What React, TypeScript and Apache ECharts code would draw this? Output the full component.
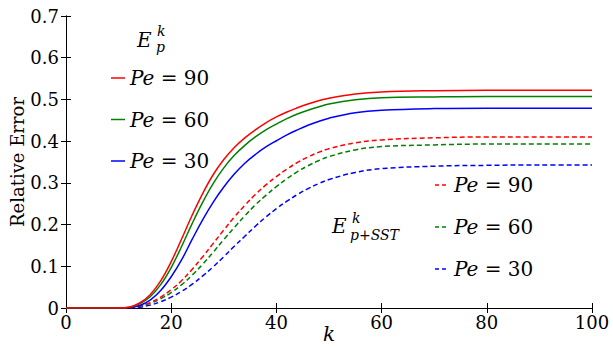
import React, { useEffect, useRef } from "react";
import * as echarts from "echarts";

const kValues = [0, 5, 10, 12, 14, 16, 18, 20, 22, 24, 26, 28, 30, 32, 34, 36, 38, 40, 42, 44, 46, 48, 50, 55, 60, 70, 80, 90, 100];

const epPe90 = [0, 0, 0, 0.002, 0.012, 0.032, 0.065, 0.111, 0.166, 0.223, 0.275, 0.32, 0.356, 0.385, 0.408, 0.427, 0.444, 0.458, 0.47, 0.48, 0.489, 0.497, 0.503, 0.513, 0.518, 0.521, 0.522, 0.522, 0.522];
const epPe60 = [0, 0, 0, 0.0015, 0.01, 0.027, 0.056, 0.097, 0.148, 0.203, 0.254, 0.299, 0.336, 0.366, 0.39, 0.41, 0.427, 0.441, 0.454, 0.465, 0.474, 0.482, 0.489, 0.499, 0.504, 0.506, 0.507, 0.507, 0.507];
const epPe30 = [0, 0, 0, 0.001, 0.006, 0.019, 0.042, 0.075, 0.116, 0.165, 0.212, 0.254, 0.29, 0.321, 0.347, 0.368, 0.386, 0.401, 0.415, 0.427, 0.438, 0.447, 0.455, 0.468, 0.474, 0.478, 0.479, 0.479, 0.479];

const esPe90 = [0, 0, 0, 0.001, 0.005, 0.013, 0.026, 0.044, 0.066, 0.093, 0.123, 0.155, 0.187, 0.218, 0.246, 0.272, 0.295, 0.315, 0.333, 0.349, 0.362, 0.373, 0.382, 0.396, 0.403, 0.408, 0.41, 0.41, 0.41];
const esPe60 = [0, 0, 0, 0.001, 0.004, 0.011, 0.022, 0.037, 0.056, 0.079, 0.105, 0.134, 0.164, 0.193, 0.221, 0.247, 0.27, 0.291, 0.31, 0.327, 0.341, 0.353, 0.363, 0.379, 0.387, 0.391, 0.393, 0.393, 0.393];
const esPe30 = [0, 0, 0, 0, 0.002, 0.007, 0.015, 0.026, 0.04, 0.057, 0.077, 0.099, 0.123, 0.148, 0.172, 0.196, 0.218, 0.238, 0.256, 0.272, 0.286, 0.298, 0.308, 0.325, 0.334, 0.34, 0.342, 0.343, 0.343];

const xTickLabels = ["0", "20", "40", "60", "80", "100"];
const yTickLabels = ["0", "0.1", "0.2", "0.3", "0.4", "0.5", "0.6", "0.7"];
const legendLabels = ["90", "60", "30"];
const colors = ["#ff0000", "#008000", "#0000ff"];

const SERIF = "DejaVu Serif";

export default function App() {
  const ref = useRef<HTMLDivElement>(null);
  useEffect(() => {
    if (!ref.current) return;
    const chart = echarts.init(ref.current, null, { renderer: "svg" });
    const toData = (arr: number[]) => kValues.map((k, i) => [k, arr[i]]);
    const mkSeries = (name: string, arr: number[], color: string, dashed: boolean) => ({
      name,
      type: "line",
      data: toData(arr),
      showSymbol: false,
      smooth: 0.4,
      lineStyle: { color, width: 1.5, type: dashed ? [5, 3] : "solid" },
      xAxisIndex: 0,
      yAxisIndex: 0,
      z: dashed ? 2 : 3,
    });

    const pe = (label: string) => ({
      text: `{i|Pe}{e| = }{n|${label}}`,
      rich: {
        i: { fontFamily: SERIF, fontStyle: "italic", fontSize: 20, color: "#000" },
        e: { fontFamily: SERIF, fontSize: 20, color: "#000" },
        n: { fontFamily: SERIF, fontSize: 20, color: "#000" },
      },
    });

    const legendYsSolid = [78, 119.5, 161];
    const legendYsDashed = [185, 227, 269];
    const graphics: any[] = [];
    legendLabels.forEach((lab, i) => {
      graphics.push({
        type: "line",
        shape: { x1: 111, y1: legendYsSolid[i], x2: 125, y2: legendYsSolid[i] },
        style: { stroke: colors[i], lineWidth: 1.5 },
      });
      graphics.push({
        type: "text",
        x: 130,
        y: legendYsSolid[i],
        style: { ...pe(lab), verticalAlign: "middle", align: "left" },
      });
      graphics.push({
        type: "line",
        shape: { x1: 435, y1: legendYsDashed[i], x2: 447, y2: legendYsDashed[i] },
        style: { stroke: colors[i], lineWidth: 1.5, lineDash: [4, 3] },
      });
      graphics.push({
        type: "text",
        x: 454,
        y: legendYsDashed[i],
        style: { ...pe(lab), verticalAlign: "middle", align: "left" },
      });
    });
    const t = (x: number, y: number, text: string, size: number) => ({
      type: "text",
      x,
      y,
      style: { text, fontFamily: SERIF, fontStyle: "italic", fontSize: size, fill: "#000", verticalAlign: "middle" },
    });
    // E_p^k
    graphics.push(t(137, 40, "E", 20));
    graphics.push(t(157, 31, "k", 14));
    graphics.push(t(156, 47, "p", 14));
    // E_{p+SST}^k
    graphics.push(t(332, 226, "E", 20));
    graphics.push(t(352, 218, "k", 14));
    graphics.push({
      type: "text",
      x: 350,
      y: 235,
      style: {
        text: "{i|p}{r|+}{i|SST}",
        rich: {
          i: { fontFamily: SERIF, fontStyle: "italic", fontSize: 14, color: "#000" },
          r: { fontFamily: SERIF, fontSize: 14, color: "#000" },
        },
        verticalAlign: "middle",
      },
    });

    const axisCommon = {
      axisLine: { show: true, lineStyle: { color: "#000", width: 1 } },
      axisTick: { show: true, inside: true, length: 5, lineStyle: { color: "#000", width: 1 } },
      splitLine: { show: false },
    };

    chart.setOption({
      animation: false,
      backgroundColor: "#fff",
      textStyle: { fontFamily: SERIF },
      grid: { left: 66, right: 21, top: 16, bottom: 39, containLabel: false, outerBoundsMode: "none" },
      xAxis: [
        {
          type: "value",
          min: 0,
          max: 100,
          interval: 20,
          position: "bottom",
          ...axisCommon,
          axisLabel: {
            margin: 5,
            fontFamily: SERIF,
            fontSize: 18,
            color: "#000",
            formatter: (v: number) => xTickLabels[Math.round(v / 20)] ?? "",
          },
          name: "k",
          nameLocation: "middle",
          nameGap: 16,
          nameMoveOverlap: false,
          nameTextStyle: { fontFamily: SERIF, fontStyle: "italic", fontSize: 20, color: "#000" },
        },
        {
          type: "value",
          min: 0,
          max: 100,
          interval: 20,
          position: "top",
          ...axisCommon,
          axisLabel: { show: false },
        },
      ],
      yAxis: [
        {
          type: "value",
          min: 0,
          max: 0.7,
          interval: 0.1,
          position: "left",
          ...axisCommon,
          axisLabel: {
            margin: 7,
            fontFamily: SERIF,
            fontSize: 18,
            color: "#000",
            formatter: (v: number) => yTickLabels[Math.round(v * 10)] ?? "",
          },
          name: "Relative Error",
          nameLocation: "middle",
          nameRotate: 90,
          nameGap: 40,
          nameMoveOverlap: false,
          nameTextStyle: { fontFamily: SERIF, fontSize: 18, color: "#000" },
        },
        {
          type: "value",
          min: 0,
          max: 0.7,
          interval: 0.1,
          position: "right",
          ...axisCommon,
          axisLabel: { show: false },
        },
      ],
      series: [
        mkSeries("SST Pe=30", esPe30, colors[2], true),
        mkSeries("SST Pe=60", esPe60, colors[1], true),
        mkSeries("SST Pe=90", esPe90, colors[0], true),
        mkSeries("Pe=30", epPe30, colors[2], false),
        mkSeries("Pe=60", epPe60, colors[1], false),
        mkSeries("Pe=90", epPe90, colors[0], false),
      ],
      graphic: graphics,
    });
    return () => chart.dispose();
  }, []);
  return (
    <div
      ref={ref}
      style={{ position: "fixed", left: 0, top: 0, width: 613, height: 347, background: "#fff" }}
    />
  );
}
